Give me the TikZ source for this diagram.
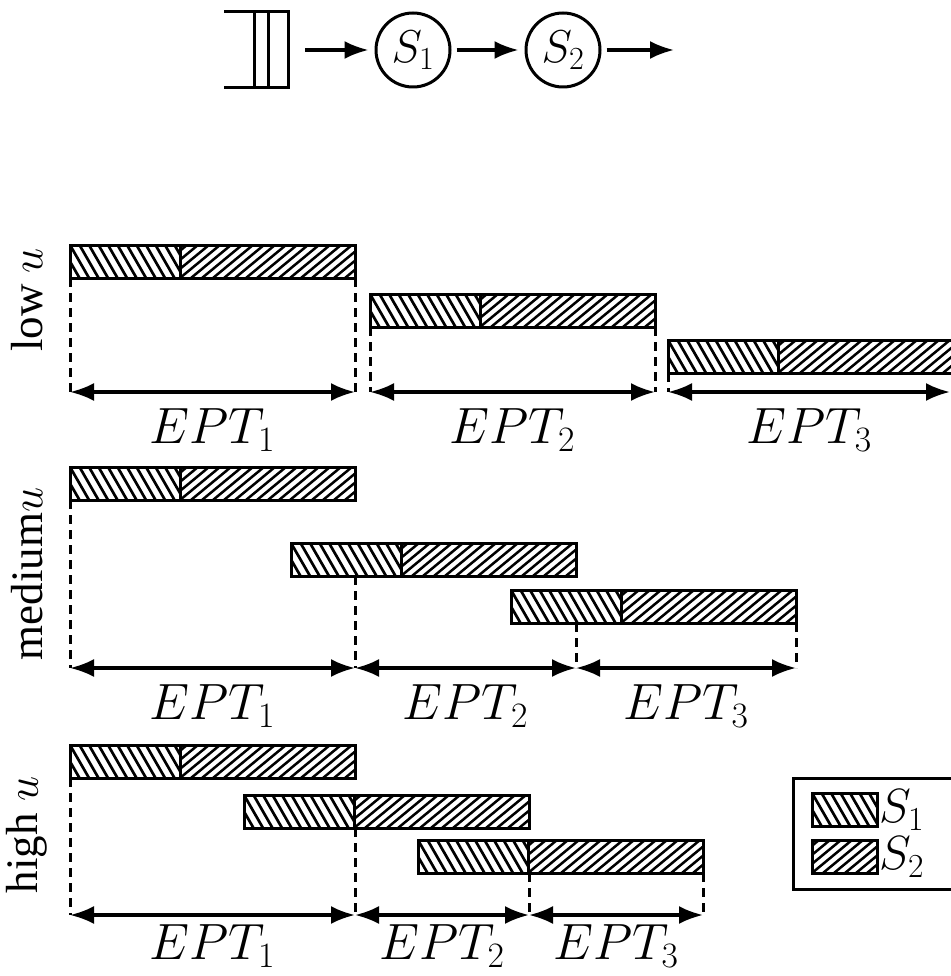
\RequirePackage{fix-cm}
\documentclass[tikz,border=0pt]{standalone}
\usepackage{fontspec}
\newfontfamily\timesfont{Liberation Serif}
\usetikzlibrary{arrows.meta}
\tikzset{
  hatchA/.style={line width=2.7pt},
  hatchB/.style={line width=2.5pt},
  barline/.style={line width=3pt},
  tip/.tip={Latex[length=24pt,width=18pt]},
  dimarrow/.style={line width=3.2pt,tip-tip},
  flow/.style={line width=3.2pt,-tip},
  guide/.style={line width=3pt,dash pattern=on 9pt off 6pt},
  lbl/.style={font=\fontsize{51}{60}\selectfont,inner sep=0pt,anchor=north},
  server/.style={circle,draw,line width=3pt,minimum size=74pt,inner sep=0pt,font=\fontsize{46}{54}\selectfont},
  rowlbl/.style={font=\fontsize{45}{54}\selectfont\timesfont,rotate=90,inner sep=0pt},
  keylbl/.style={font=\fontsize{48}{56}\selectfont,anchor=west,inner sep=0pt}
}
% S1 hatching: x, y, width, height
\newcommand\hatchS[4]{%
  \begin{scope}
    \clip (#1,#2) rectangle ++(#3,#4);
    \foreach \k in {-3,...,13} \draw[hatchA] (#1+\k*9.5,#2) -- ++(19,#4);
  \end{scope}}
% S2 hatching: x, y, width, height
\newcommand\hatchT[4]{%
  \begin{scope}
    \clip (#1,#2) rectangle ++(#3,#4);
    \foreach \k in {-4,...,17} \draw[hatchB] (#1+\k*11,#2+#4) -- ++(40,-#4);
  \end{scope}}
\newcommand\taskbar[3]{%
  \hatchS{#2}{#3}{110}{33}
  \hatchT{#2+110}{#3}{175}{33}
  \draw[barline] (#2,#3) rectangle ++(285,33);
  \draw[barline] (#2+110,#3) -- ++(0,33);
  \coordinate (#1bl) at (#2,#3+33);
  \coordinate (#1br) at (#2+285,#3+33);
}
\begin{document}
\begin{tikzpicture}[x=1pt,y=-1pt]
\useasboundingbox (0,0) rectangle (950,976);
% queue and servers
\draw[line width=3pt] (224,12) -- (288,12) -- (288,88) -- (224,88);
\draw[line width=3pt] (254,12) -- (254,88);
\draw[line width=3pt] (268,12) -- (268,88);
\coordinate (qout) at (305,50);
\node[server] (s1) at (413,50) {$S_1$};
\node[server] (s2) at (563,50) {$S_2$};
\coordinate (out) at (674,50);
\draw[flow,shorten >=6pt] (qout) -- (s1);
\draw[flow,shorten <=5pt,shorten >=6pt] (s1) -- (s2);
\draw[flow,shorten <=5pt] (s2.east) -- (out);

% row 1: low u
\taskbar{b11}{70}{245}
\taskbar{b12}{370}{294}
\taskbar{b13}{668}{340}
\coordinate (a10) at (70,392);
\coordinate (a11) at (355,392);
\coordinate (a12) at (370,392);
\coordinate (a13) at (655,392);
\coordinate (a14) at (668,392);
\coordinate (a15) at (950,392);
\draw[guide] (b11bl) -- (a10);
\draw[guide] (b11br) -- (a11);
\draw[guide] (b12bl) -- (a12);
\draw[guide] (b12br) -- (a13);
\draw[guide] (b13bl) -- (a14);
\draw[dimarrow] (a10) -- (a11) node[lbl,midway,below=15pt] {$EPT_1$};
\draw[dimarrow] (a12) -- (a13) node[lbl,midway,below=15pt] {$EPT_2$};
\draw[dimarrow] (a14) -- (a15) node[lbl,midway,below=15pt] {$EPT_3$};
\node[rowlbl] (l1) at (27,300) {low $u$};

% row 2: medium u
\taskbar{b21}{70}{467}
\taskbar{b22}{291}{543}
\taskbar{b23}{511}{590}
\coordinate (a20) at (70,668);
\coordinate (a21) at (355,668);
\coordinate (a22) at (576,668);
\coordinate (a23) at (796,668);
\draw[guide] (b21bl) -- (a20);
\draw[guide] (b21br |- b22bl) -- (a21);
\draw[guide] (b22br |- b23bl) -- (a22);
\draw[guide] (b23br) -- (a23);
\draw[dimarrow] (a20) -- (a21) node[lbl,midway,below=15pt] {$EPT_1$};
\draw[dimarrow] (a21) -- (a22) node[lbl,midway,below=15pt] {$EPT_2$};
\draw[dimarrow] (a22) -- (a23) node[lbl,midway,below=15pt] {$EPT_3$};
\node[rowlbl] (l2) at (27,574) {medium$u$};

% row 3: high u
\taskbar{b31}{70}{745}
\taskbar{b32}{244}{795}
\taskbar{b33}{418}{840}
\coordinate (a30) at (70,915);
\coordinate (a31) at (355,915);
\coordinate (a32) at (529,915);
\coordinate (a33) at (703,915);
\draw[guide] (b31bl) -- (a30);
\draw[guide] (b31br |- b32bl) -- (a31);
\draw[guide] (b32br |- b33bl) -- (a32);
\draw[guide] (b33br) -- (a33);
\draw[dimarrow] (a30) -- (a31) node[lbl,midway,below=8pt] {$EPT_1$};
\draw[dimarrow] (a31) -- (a32) node[lbl,midway,below=8pt] {$EPT_2$};
\draw[dimarrow] (a32) -- (a33) node[lbl,midway,below=8pt] {$EPT_3$};
\node[rowlbl] (l3) at (27,835) {high $u$};

% legend
\draw[line width=3pt] (793,778) rectangle (953,889);
\hatchS{812}{793}{65}{33}
\draw[barline] (812,793) rectangle (877,826);
\hatchT{812}{840}{65}{33}
\draw[barline] (812,840) rectangle (877,873);
\node[keylbl] (k1) at (879,810) {$S_1$};
\node[keylbl] (k2) at (879,857) {$S_2$};
\end{tikzpicture}
\end{document}
